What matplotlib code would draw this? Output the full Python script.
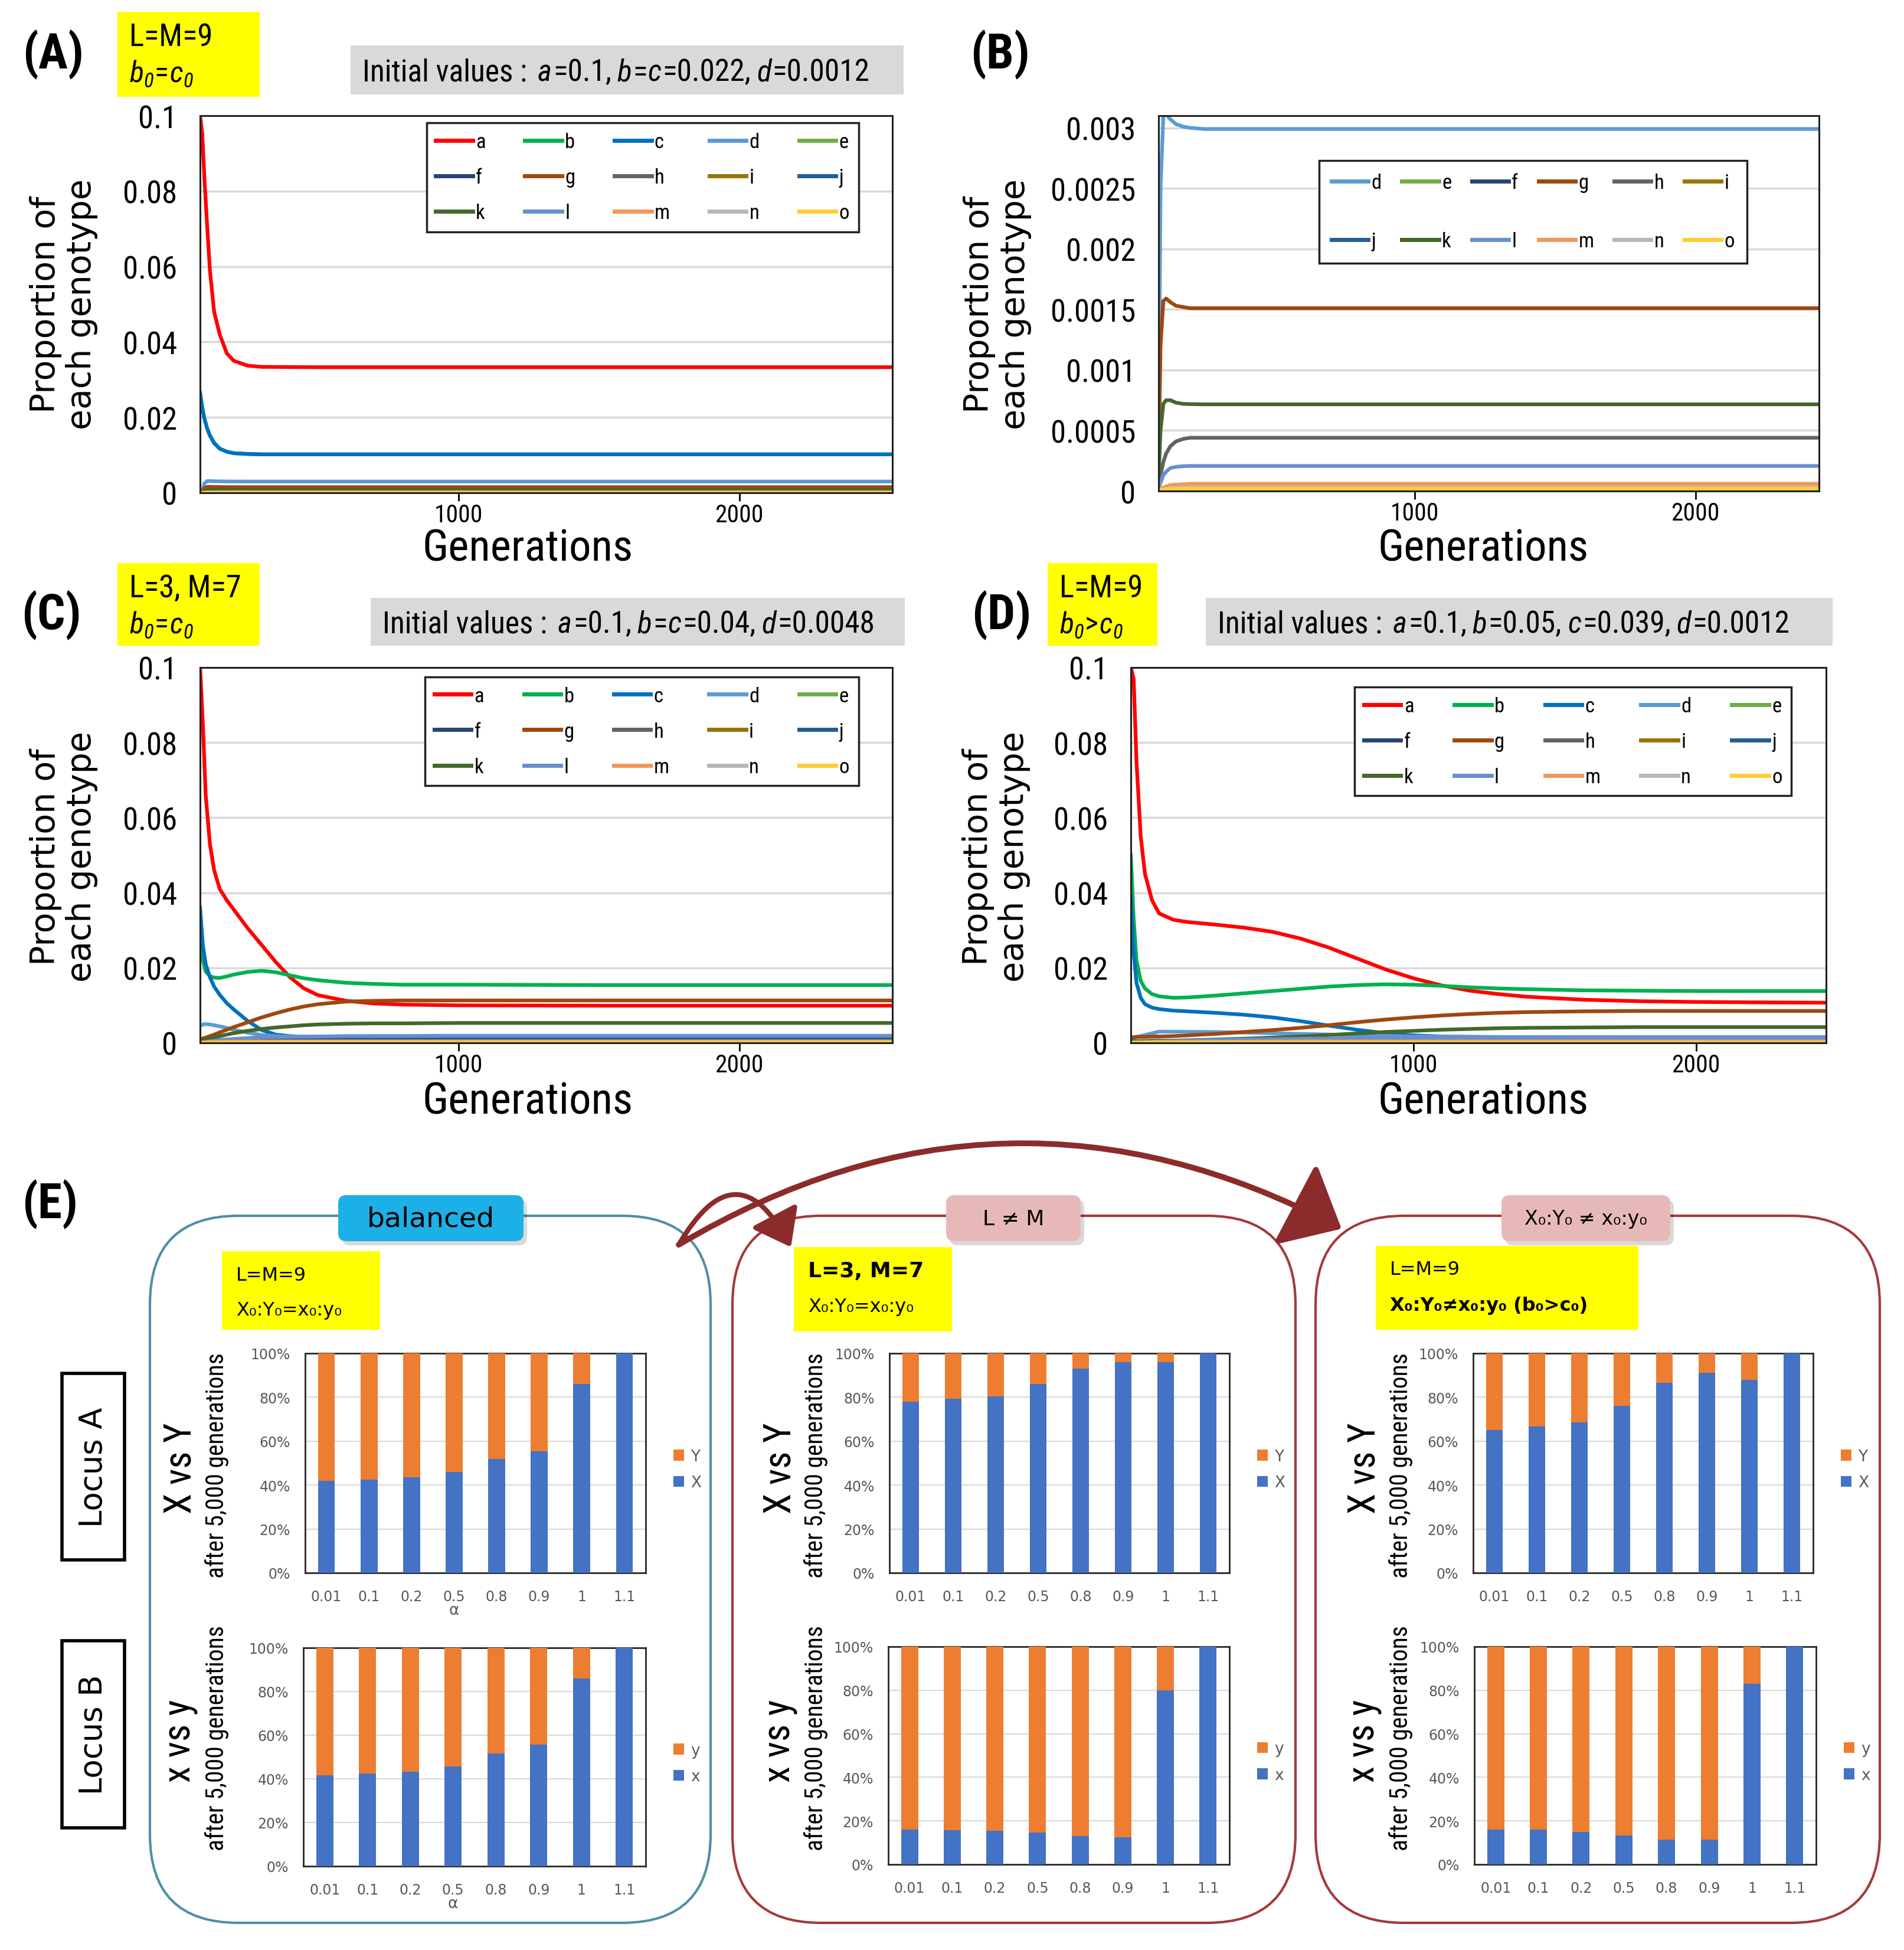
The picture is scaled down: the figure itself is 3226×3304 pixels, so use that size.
import numpy as np
import matplotlib.pyplot as plt
from matplotlib import font_manager
from matplotlib.font_manager import FontProperties
from matplotlib.patches import Rectangle, FancyBboxPatch, FancyArrowPatch, ArrowStyle
from matplotlib.lines import Line2D

W, H = 3226, 3305

# -------------------------------
# DATOS
# -------------------------------
GENOTYPES = list("abcdefghijklmno")
COLORS = ["#ff0000", "#00b050", "#0070c0", "#5b9bd5", "#70ad47",
          "#264478", "#9e480e", "#636363", "#997300", "#255e91",
          "#43682b", "#698ed0", "#f1975a", "#b7b7b7", "#ffcd33"]

# (A) y (B): mismo experimento, (B) es el zoom de los genotipos menores
AB_GEN = [80, 88, 95, 105, 115, 130, 150, 175, 200, 250, 300, 500, 1000, 2000, 2545]
AB_a = [0.100, 0.095, 0.084, 0.071, 0.059, 0.048, 0.042, 0.037, 0.035, 0.0337, 0.0334, 0.0333, 0.0333, 0.0333, 0.0333]
AB_bc = [0.0265, 0.0225, 0.0198, 0.0171, 0.0152, 0.0132, 0.0117, 0.0109, 0.0105, 0.0103, 0.0102, 0.0102, 0.0102, 0.0102, 0.0102]
AB_d = [0.0, 0.0003, 0.0025, 0.0031, 0.00311, 0.00307, 0.00303, 0.00301, 0.0030, 0.00299, 0.00299, 0.00299, 0.00299, 0.00299, 0.00299]
AB_g = [0.0, 0.0002, 0.0012, 0.00157, 0.00159, 0.00156, 0.00153, 0.00152, 0.00151, 0.00151, 0.00151, 0.00151, 0.00151, 0.00151, 0.00151]
AB_k = [0.0, 0.0001, 0.0005, 0.00072, 0.00075, 0.00075, 0.00073, 0.00072, 0.000718, 0.000716, 0.000716, 0.000716, 0.000716, 0.000716, 0.000716]
AB_h = [0.0, 0.00003, 0.00013, 0.00024, 0.00031, 0.00037, 0.00041, 0.00043, 0.00044, 0.00044, 0.00044, 0.00044, 0.00044, 0.00044, 0.00044]
AB_l = [0.0, 0.00002, 0.00007, 0.00013, 0.00016, 0.00019, 0.0002, 0.000205, 0.000207, 0.000207, 0.000207, 0.000207, 0.000207, 0.000207, 0.000207]
AB_GEN_MINOR = [80, 95, 130, 200, 2545]
AB_e = [0.0, 0.00001, 0.00002, 0.00002, 0.00002]
AB_f = [0.0, 0.0, 0.00001, 0.00001, 0.00001]
AB_i = [0.0, 0.0, 0.00001, 0.00001, 0.00001]
AB_j = [0.0, 0.0, 0.00001, 0.00001, 0.00001]
AB_m = [0.0, 0.00002, 0.00005, 0.00006, 0.00006]
AB_n = [0.0, 0.00001, 0.00003, 0.00003, 0.00003]
AB_o = [0.0, 0.00001, 0.00002, 0.00002, 0.00002]

# (C) L=3, M=7
C_GEN = [80, 90, 100, 115, 130, 150, 175, 200, 250, 300, 350, 400, 450, 500, 600, 700, 800, 1000, 1500, 2000, 2545]
C_a = [0.100, 0.085, 0.066, 0.053, 0.046, 0.041, 0.038, 0.0355, 0.0305, 0.026, 0.0215, 0.0175, 0.0145, 0.0127, 0.0112, 0.0105, 0.0102, 0.0100, 0.0099, 0.0099, 0.0099]
C_b = [0.031, 0.022, 0.0190, 0.0178, 0.0174, 0.0173, 0.0177, 0.0182, 0.0189, 0.0192, 0.0188, 0.0180, 0.0172, 0.0167, 0.0160, 0.0157, 0.0155, 0.0155, 0.0154, 0.0154, 0.0154]
C_c = [0.036, 0.026, 0.021, 0.0175, 0.0150, 0.0128, 0.0106, 0.0089, 0.0058, 0.0034, 0.0022, 0.0018, 0.0016, 0.0016, 0.0015, 0.0015, 0.0015, 0.0015, 0.0015, 0.0015, 0.0015]
C_d = [0.0045, 0.0049, 0.0050, 0.0049, 0.0047, 0.0044, 0.0040, 0.0035, 0.0027, 0.0021, 0.0018, 0.0017, 0.0016, 0.0016, 0.0016, 0.0016, 0.0016, 0.0016, 0.0016, 0.0016, 0.0016]
C_g = [0.0010, 0.0012, 0.0014, 0.0018, 0.0022, 0.0028, 0.0035, 0.0042, 0.0055, 0.0068, 0.0079, 0.0089, 0.0097, 0.0103, 0.0110, 0.0112, 0.0113, 0.0113, 0.0113, 0.0113, 0.0113]
C_k = [0.0005, 0.0006, 0.0008, 0.0011, 0.0014, 0.0018, 0.0022, 0.0026, 0.0032, 0.0037, 0.0041, 0.0044, 0.0047, 0.0049, 0.0051, 0.0052, 0.0052, 0.0053, 0.0053, 0.0053, 0.0053]
C_GEN_MINOR = [80, 150, 300, 600, 1000, 2545]
C_e = [0.0001, 0.0002, 0.0003, 0.0003, 0.0003, 0.0003]
C_f = [0.0001, 0.0001, 0.0002, 0.0002, 0.0002, 0.0002]
C_h = [0.0, 0.0006, 0.0011, 0.0013, 0.0013, 0.0013]
C_i = [0.0001, 0.0002, 0.0003, 0.0003, 0.0003, 0.0003]
C_j = [0.0, 0.0004, 0.0009, 0.0012, 0.0012, 0.0012]
C_l = [0.0, 0.0008, 0.0015, 0.0018, 0.0019, 0.0019]
C_m = [0.0001, 0.0003, 0.0004, 0.0004, 0.0004, 0.0004]
C_n = [0.0, 0.0001, 0.0002, 0.0002, 0.0002, 0.0002]
C_o = [0.0, 0.0001, 0.0001, 0.0001, 0.0001, 0.0001]

# (D) L=M=9, b0>c0
D_GEN = [0, 10, 20, 35, 50, 75, 100, 150, 200, 300, 400, 500, 600, 700, 800, 900, 1000, 1100, 1200, 1300, 1400, 1600, 1800, 2000, 2200, 2460]
D_a = [0.100, 0.097, 0.075, 0.055, 0.045, 0.038, 0.0345, 0.0328, 0.0322, 0.0315, 0.0307, 0.0296, 0.0278, 0.0254, 0.0225, 0.0196, 0.0172, 0.0153, 0.0139, 0.0130, 0.0123, 0.0115, 0.0111, 0.0109, 0.0108, 0.0107]
D_b = [0.050, 0.033, 0.022, 0.0165, 0.0145, 0.0130, 0.0124, 0.0120, 0.0121, 0.0126, 0.0132, 0.0138, 0.0144, 0.0150, 0.0154, 0.0156, 0.0155, 0.0152, 0.0148, 0.0145, 0.0143, 0.0140, 0.0139, 0.0138, 0.0138, 0.0138]
D_c = [0.039, 0.024, 0.016, 0.0120, 0.0103, 0.0094, 0.0090, 0.0086, 0.0084, 0.0080, 0.0075, 0.0068, 0.0058, 0.0046, 0.0035, 0.0026, 0.0020, 0.0017, 0.0016, 0.0015, 0.0015, 0.0015, 0.0015, 0.0015, 0.0015, 0.0015]
D_g = [0.0015, 0.0015, 0.0016, 0.0016, 0.0016, 0.0017, 0.0017, 0.0018, 0.0020, 0.0024, 0.0029, 0.0034, 0.0040, 0.0047, 0.0055, 0.0062, 0.0068, 0.0073, 0.0077, 0.0080, 0.0082, 0.0084, 0.0085, 0.0085, 0.0085, 0.0085]
D_k = [0.0005, 0.0005, 0.0005, 0.0005, 0.0005, 0.0006, 0.0006, 0.0006, 0.0007, 0.0009, 0.0011, 0.0014, 0.0017, 0.0021, 0.0025, 0.0029, 0.0032, 0.0035, 0.0037, 0.0039, 0.0040, 0.0041, 0.0042, 0.0042, 0.0042, 0.0042]
D_GEN_MINOR = [0, 100, 300, 600, 1000, 1500, 2460]
D_d = [0.0012, 0.0030, 0.0029, 0.0024, 0.0017, 0.0015, 0.0015]
D_e = [0.0001, 0.0002, 0.0003, 0.0003, 0.0003, 0.0003, 0.0003]
D_f = [0.0001, 0.0001, 0.0002, 0.0002, 0.0002, 0.0002, 0.0002]
D_h = [0.0001, 0.0003, 0.0006, 0.0009, 0.0011, 0.0012, 0.0012]
D_i = [0.0001, 0.0001, 0.0002, 0.0003, 0.0003, 0.0003, 0.0003]
D_j = [0.0001, 0.0002, 0.0005, 0.0008, 0.0010, 0.0011, 0.0011]
D_l = [0.0002, 0.0004, 0.0008, 0.0011, 0.0013, 0.0013, 0.0013]
D_m = [0.0001, 0.0002, 0.0003, 0.0004, 0.0004, 0.0004, 0.0004]
D_n = [0.0, 0.0001, 0.0002, 0.0002, 0.0002, 0.0002, 0.0002]
D_o = [0.0, 0.0001, 0.0001, 0.0001, 0.0001, 0.0001, 0.0001]

# (E) barras: % de X (o x) despues de 5,000 generaciones
ALPHAS = ["0.01", "0.1", "0.2", "0.5", "0.8", "0.9", "1", "1.1"]
BAL_A_X = [42, 42.5, 43.5, 46, 52, 55.5, 86, 100]
BAL_B_x = [41.5, 42.3, 43.2, 45.8, 51.5, 55.6, 86, 100]
LM_A_X = [78, 79.3, 80.5, 86, 93, 96, 96, 100]
LM_B_x = [16, 15.8, 15.5, 14.5, 13, 12.6, 80, 100]
XY_A_X = [65, 66.7, 68.5, 76, 86.5, 91.2, 88, 100]
XY_B_x = [16, 16, 15, 13.3, 11.3, 11.3, 83, 100]

# -------------------------------
# FUENTES
# -------------------------------
plt.rcParams["font.family"] = ["DejaVu Sans"]
RANK = ["Liberation Sans Narrow", "Roboto Condensed", "Open Sans Condensed", "Noto Sans", "DejaVu Sans"]


def narrow_file(bold=False, italic=False):
    best = None
    for f in font_manager.fontManager.ttflist:
        nm = f.name.lower()
        st = str(f.stretch).lower()
        if "extra" in nm or "ultra" in nm or "extra" in st or "ultra" in st:
            continue
        if not ("narrow" in nm or "condensed" in nm or "condensed" in st):
            continue
        if (f.style in ("italic", "oblique")) != italic:
            continue
        try:
            w = int(f.weight)
        except (TypeError, ValueError):
            w = 700 if "bold" in str(f.weight).lower() else 400
        rank = next((i for i, r in enumerate(RANK) if f.name.startswith(r)), len(RANK))
        score = rank * 1000 + abs(w - (700 if bold else 400))
        if best is None or score < best[0]:
            best = (score, f.fname)
    return best[1] if best else None


NARROW_FILES = {(b, i): narrow_file(b, i) for b in (False, True) for i in (False, True)}


def fp(size, bold=False, italic=False):
    path = NARROW_FILES[(bold, italic)]
    if path:
        return FontProperties(fname=path, size=size)
    return FontProperties(family="Liberation Sans", size=size * 0.86,
                          weight="bold" if bold else "normal", style="italic" if italic else "normal")


COL = dict(zip(GENOTYPES, COLORS))
BLUE, ORANGE = "#4472c4", "#ed7d31"
GRAY_TXT = "#595959"

fig = plt.figure(figsize=(W / 100, H / 100), dpi=100)
renderer = fig.canvas.get_renderer()
bg = fig.add_axes([0, 0, 1, 1])
bg.set_xlim(0, W)
bg.set_ylim(H, 0)
bg.axis("off")


def rect(x0, y0, x1, y1):
    return [x0 / W, 1 - y1 / H, (x1 - x0) / W, (y1 - y0) / H]


def rich(x, y, parts):
    # texto por trozos (cursiva / subindice) sobre la linea base y
    for p in parts:
        if isinstance(p, (int, float)):
            x += p
            continue
        txt, prop, dy = p
        t = bg.text(x, y + dy, txt, fontproperties=prop, ha="left", va="baseline")
        x += t.get_window_extent(renderer).width


def row_major(keys, ncol):
    nrow = int(np.ceil(len(keys) / ncol))
    return [keys[r * ncol + c] for c in range(ncol) for r in range(nrow) if r * ncol + c < len(keys)]


def line_panel(frame, series, xlim, ylim, yticks, ylabels, keys, anchor, ncol, lspace, bpad):
    ax = fig.add_axes(rect(*frame))
    for k in GENOTYPES:
        if k in series:
            gx, gy = series[k]
            ax.plot(gx, gy, color=COL[k], lw=4.5, solid_joinstyle="round")
    ax.set_xlim(*xlim)
    ax.set_ylim(*ylim)
    ax.set_yticks(yticks)
    ax.set_yticklabels(ylabels, fontproperties=fp(38))
    ax.set_xticks([1000, 2000])
    ax.set_xticklabels(["1000", "2000"], fontproperties=fp(30))
    ax.tick_params(axis="y", length=0, pad=28)
    ax.tick_params(axis="x", length=10, width=2, direction="out", pad=2)
    ax.yaxis.grid(True, color="#d9d9d9", lw=2.5)
    ax.set_axisbelow(True)
    for s in ax.spines.values():
        s.set_color("#222222")
        s.set_linewidth(2.2)
    order = row_major(keys, ncol)
    handles = [Line2D([], [], color=COL[k], lw=5) for k in order]
    leg = ax.legend(handles, order, ncol=ncol, loc="upper left", bbox_to_anchor=anchor,
                    mode="expand", borderaxespad=0, fancybox=False, edgecolor="#222222",
                    framealpha=1, prop=fp(25), handlelength=1.8, handletextpad=0.15,
                    labelspacing=lspace, borderpad=bpad, columnspacing=1.0)
    leg.get_frame().set_linewidth(2.5)
    return ax


AB_SERIES = {"a": (AB_GEN, AB_a), "b": (AB_GEN, AB_bc), "c": (AB_GEN, AB_bc),
             "d": (AB_GEN, AB_d), "e": (AB_GEN_MINOR, AB_e), "f": (AB_GEN_MINOR, AB_f),
             "g": (AB_GEN, AB_g), "h": (AB_GEN, AB_h), "i": (AB_GEN_MINOR, AB_i),
             "j": (AB_GEN_MINOR, AB_j), "k": (AB_GEN, AB_k), "l": (AB_GEN, AB_l),
             "m": (AB_GEN_MINOR, AB_m), "n": (AB_GEN_MINOR, AB_n), "o": (AB_GEN_MINOR, AB_o)}
C_SERIES = {"a": (C_GEN, C_a), "b": (C_GEN, C_b), "c": (C_GEN, C_c),
            "d": (C_GEN, C_d), "e": (C_GEN_MINOR, C_e), "f": (C_GEN_MINOR, C_f),
            "g": (C_GEN, C_g), "h": (C_GEN_MINOR, C_h), "i": (C_GEN_MINOR, C_i),
            "j": (C_GEN_MINOR, C_j), "k": (C_GEN, C_k), "l": (C_GEN_MINOR, C_l),
            "m": (C_GEN_MINOR, C_m), "n": (C_GEN_MINOR, C_n), "o": (C_GEN_MINOR, C_o)}
D_SERIES = {"a": (D_GEN, D_a), "b": (D_GEN, D_b), "c": (D_GEN, D_c),
            "d": (D_GEN_MINOR, D_d), "e": (D_GEN_MINOR, D_e), "f": (D_GEN_MINOR, D_f),
            "g": (D_GEN, D_g), "h": (D_GEN_MINOR, D_h), "i": (D_GEN_MINOR, D_i),
            "j": (D_GEN_MINOR, D_j), "k": (D_GEN, D_k), "l": (D_GEN_MINOR, D_l),
            "m": (D_GEN_MINOR, D_m), "n": (D_GEN_MINOR, D_n), "o": (D_GEN_MINOR, D_o)}

Y01 = [0, 0.02, 0.04, 0.06, 0.08, 0.1]
Y01_LAB = ["0", "0.02", "0.04", "0.06", "0.08", "0.1"]
YB = [0, 0.0005, 0.001, 0.0015, 0.002, 0.0025, 0.003]
YB_LAB = ["0", "0.0005", "0.001", "0.0015", "0.002", "0.0025", "0.003"]

line_panel((339, 197, 1512, 836), AB_SERIES, (80, 2545), (0, 0.1), Y01, Y01_LAB,
           GENOTYPES, (0.327, 0.0, 0.624, 0.981), 5, 0.78, 0.45)
line_panel((1963, 197, 3082, 833), {k: v for k, v in AB_SERIES.items() if k not in "abc"},
           (88, 2440), (0, 0.0031), YB, YB_LAB,
           GENOTYPES[3:], (0.243, 0.0, 0.648, 0.880), 6, 1.9, 0.6)
line_panel((339, 1132, 1512, 1768), C_SERIES, (80, 2545), (0, 0.1), Y01, Y01_LAB,
           GENOTYPES, (0.325, 0.0, 0.626, 0.975), 5, 0.78, 0.45)
line_panel((1916, 1132, 3094, 1768), D_SERIES, (0, 2460), (0, 0.1), Y01, Y01_LAB,
           GENOTYPES, (0.322, 0.0, 0.628, 0.948), 5, 0.78, 0.45)

# textos de los paneles de lineas
for x, y, lab in [(90, 92, "(A)"), (1695, 92, "(B)"), (87, 1042, "(C)"), (1697, 1042, "(D)"), (85, 2040, "(E)")]:
    bg.text(x, y, lab, fontproperties=fp(60, bold=True), ha="center", va="center")

for cx, cy in [(108, 516), (1690, 516), (108, 1452), (1688, 1452)]:
    bg.text(cx, cy, "Proportion of\neach genotype", rotation=90, fontsize=41,
            ha="center", va="center", linespacing=1.15)
for cx, cy in [(894, 930), (2513, 930), (894, 1867), (2513, 1867)]:
    bg.text(cx, cy, "Generations", fontproperties=fp(54), ha="center", va="center")

yellow = "#ffff00"
IT, SUB, REG = fp(36, italic=True), fp(25, italic=True), fp(38)
for (x0, y0, x1, y1), l1, rel in [((199, 21, 440, 165), "L=M=9", "="),
                                  ((199, 955, 440, 1095), "L=3, M=7", "="),
                                  ((1775, 955, 1961, 1095), "L=M=9", ">")]:
    bg.add_patch(Rectangle((x0, y0), x1 - x0, y1 - y0, fc=yellow, ec="none"))
    bg.text(x0 + 20, y0 + 57, l1, fontproperties=REG, ha="left", va="baseline")
    rich(x0 + 20, y0 + 118, [("b", IT, 0), ("0", SUB, 9), 2, (rel, fp(36), 0), 2, ("c", IT, 0), ("0", SUB, 9)])

GI, GR = fp(37, italic=True), fp(37)
for (x0, y0, x1, y1), vals in [((594, 78, 1531, 161), [("a", "=0.1,"), ("b", "="), ("c", "=0.022,"), ("d", "=0.0012")]),
                               ((628, 1014, 1533, 1095), [("a", "=0.1,"), ("b", "="), ("c", "=0.04,"), ("d", "=0.0048")]),
                               ((2043, 1014, 3105, 1095), [("a", "=0.1,"), ("b", "=0.05,"), ("c", "=0.039,"), ("d", "=0.0012")])]:
    bg.add_patch(Rectangle((x0, y0), x1 - x0, y1 - y0, fc="#d9d9d9", ec="none"))
    parts = [("Initial values :", GR, 0), 18]
    for letter, rest in vals:
        parts += [(letter, GI, 0), 2, (rest, GR, 0), 0 if rest.endswith("=") else 10]
    rich(x0 + 20, (y0 + y1) / 2 + 18, parts)

# -------------------------------
# PANEL (E)
# -------------------------------
BOX_TOP, BOX_BOT = 2061, 3259
for x0, x1, ec in [(254, 1204, "#4f8fa6"), (1241, 2195, "#a33a3a"), (2229, 3185, "#a33a3a")]:
    bg.add_patch(FancyBboxPatch((x0, BOX_TOP), x1 - x0, BOX_BOT - BOX_TOP,
                                boxstyle="round,pad=0,rounding_size=150", fc="white", ec=ec, lw=3))

for x0, x1, txt, fc, size in [(573, 887, "balanced", "#1cb0e6", 34),
                              (1603, 1831, "L ≠ M", "#e6b9b8", 26),
                              (2544, 2830, "X₀:Y₀ ≠ x₀:y₀", "#e6b9b8", 24)]:
    bg.add_patch(FancyBboxPatch((x0 + 6, 2033), x1 - x0, 78, boxstyle="round,pad=0,rounding_size=14",
                                fc="black", alpha=0.15, ec="none"))
    bg.add_patch(FancyBboxPatch((x0, 2026), x1 - x0, 78, boxstyle="round,pad=0,rounding_size=14",
                                fc=fc, ec="none"))
    bg.text((x0 + x1) / 2, 2066, txt, fontsize=size, ha="center", va="center")

arrow_col = "#8b2b2b"
bg.add_patch(FancyArrowPatch((1150, 2110), (1340, 2114), connectionstyle="arc3,rad=-0.9",
                             arrowstyle=ArrowStyle("-|>", head_length=0.8, head_width=0.6),
                             mutation_scale=45, lw=6, color=arrow_col, shrinkA=0, shrinkB=0))
bg.add_patch(FancyArrowPatch((1150, 2110), (2273, 2083), connectionstyle="arc3,rad=-0.28",
                             arrowstyle=ArrowStyle("-|>", head_length=0.8, head_width=0.7),
                             mutation_scale=70, lw=7, color=arrow_col, shrinkA=0, shrinkB=0))

for (x0, y0, x1, y1), l1, l2, w1, w2 in [((376, 2121, 644, 2254), "L=M=9", "X₀:Y₀=x₀:y₀", "normal", "normal"),
                                         ((1345, 2114, 1613, 2257), "L=3, M=7", "X₀:Y₀=x₀:y₀", "bold", "normal"),
                                         ((2331, 2112, 2776, 2254), "L=M=9", "X₀:Y₀≠x₀:y₀ (b₀>c₀)", "normal", "bold")]:
    bg.add_patch(Rectangle((x0, y0), x1 - x0, y1 - y0, fc=yellow, ec="none"))
    bg.text(x0 + 24, y0 + 40, l1, fontsize=26 if w1 == "bold" else 23, fontweight=w1, ha="left", va="center")
    bg.text(x0 + 24, y0 + 100, l2, fontsize=23, fontweight=w2, ha="left", va="center")

for y0, y1, txt in [(2328, 2644, "Locus A"), (2781, 3098, "Locus B")]:
    bg.add_patch(Rectangle((105, y0), 106, y1 - y0, fill=False, ec="black", lw=4))
    bg.text(158, (y0 + y1) / 2, txt, rotation=90, fontsize=38, ha="center", va="center")


def bar_panel(frame, x_vals, names, anchor, alpha_lab):
    ax = fig.add_axes(rect(*frame))
    idx = np.arange(len(ALPHAS))
    xs = np.array(x_vals)
    ax.bar(idx, xs, width=0.4, color=BLUE, label=names[0], zorder=3)
    ax.bar(idx, 100 - xs, bottom=xs, width=0.4, color=ORANGE, label=names[1], zorder=3)
    ax.set_xlim(-0.5, 7.5)
    ax.set_ylim(0, 100)
    ax.set_yticks(range(0, 101, 20))
    ax.set_yticklabels([f"{v}%" for v in range(0, 101, 20)])
    ax.set_xticks(idx)
    ax.set_xticklabels(ALPHAS)
    ax.tick_params(length=0, labelsize=17, labelcolor=GRAY_TXT)
    ax.tick_params(axis="y", pad=18)
    ax.tick_params(axis="x", pad=20)
    ax.yaxis.grid(True, color="#d9d9d9", lw=1.5, zorder=0)
    for s in ax.spines.values():
        s.set_color("#262626")
        s.set_linewidth(2)
    h, l = ax.get_legend_handles_labels()
    ax.legend(h[::-1], l[::-1], loc="center left", bbox_to_anchor=anchor, frameon=False,
              handlelength=0.7, handleheight=0.7, handletextpad=0.4, labelspacing=0.7,
              fontsize=19, labelcolor=GRAY_TXT)
    if alpha_lab:
        ax.text(3, -0.17, "α", transform=ax.get_xaxis_transform(), fontsize=19,
                color=GRAY_TXT, ha="center", va="center")
    return ax


bar_panel((517, 2294, 1094, 2666), BAL_A_X, ("X", "Y"), (1.04, 0.47), True)
bar_panel((514, 2793, 1094, 3163), BAL_B_x, ("x", "y"), (1.04, 0.47), True)
bar_panel((1507, 2294, 2083, 2666), LM_A_X, ("X", "Y"), (1.04, 0.47), False)
bar_panel((1505, 2791, 2083, 3160), LM_B_x, ("x", "y"), (1.04, 0.47), False)
bar_panel((2496, 2294, 3072, 2666), XY_A_X, ("X", "Y"), (1.04, 0.47), False)
bar_panel((2498, 2791, 3077, 3160), XY_B_x, ("x", "y"), (1.04, 0.47), False)

for xa, xb in [(305, 367), (1321, 1382), (2311, 2373)]:
    for yc, big in [(2488, "X vs Y"), (2950, "x vs y")]:
        bg.text(xa, yc, big, fontproperties=fp(46), rotation=90, ha="center", va="center")
        bg.text(xb, yc - 5, "after 5,000 generations", fontproperties=fp(30),
                rotation=90, ha="center", va="center")

fig.savefig("out.png", dpi=100)
